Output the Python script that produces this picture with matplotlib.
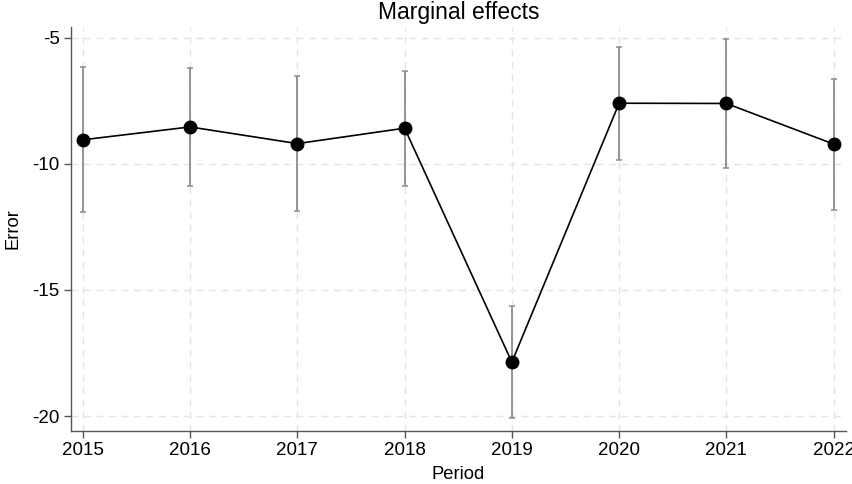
import matplotlib.pyplot as plt

plt.rcParams['font.family'] = ['Liberation Sans', 'DejaVu Sans']
plt.rcParams['axes.unicode_minus'] = False

# Estimated marginal effects by period with confidence intervals
periods = [2015, 2016, 2017, 2018, 2019, 2020, 2021, 2022]
effects = [-9.05, -8.54, -9.20, -8.59, -17.86, -7.60, -7.61, -9.22]
ci_low = [-11.91, -10.90, -11.86, -10.87, -20.09, -9.84, -10.17, -11.83]
ci_high = [-6.17, -6.19, -6.54, -6.31, -15.63, -5.37, -5.06, -6.64]

yticks = [-5, -10, -15, -20]

fig = plt.figure(figsize=(8.53, 4.84), dpi=100)
ax = fig.add_axes([0.0832, 0.1095, 0.9086, 0.8347])

err_lo = [e - lo for e, lo in zip(effects, ci_low)]
err_hi = [hi - e for e, hi in zip(effects, ci_high)]
ax.errorbar(periods, effects, yerr=[err_lo, err_hi], fmt='none',
            ecolor='#8c8c8c', elinewidth=1.3, capsize=2.5, capthick=1.1, zorder=2)
ax.plot(periods, effects, color='black', linewidth=1.2, marker='o',
        markersize=9, zorder=3)

ax.set_xlim(2014.89, 2022.115)
ax.set_ylim(-20.59, -4.58)
ax.set_xticks(periods)
ax.set_yticks(yticks)
ax.set_xticklabels([str(p) for p in periods])

ax.grid(True, color='#e4e4e4', linestyle=(0, (5, 4)), linewidth=1.0)
ax.set_axisbelow(True)

for side in ['top', 'right']:
    ax.spines[side].set_visible(False)
for side in ['left', 'bottom']:
    ax.spines[side].set_color('#555555')
    ax.spines[side].set_linewidth(1.0)

ax.tick_params(axis='both', labelsize=13.5, length=5, width=1.0, color='#555555', pad=3)

ax.set_title('Marginal effects', fontsize=16.5, pad=6)
ax.set_xlabel('Period', fontsize=13.2, labelpad=5)
ax.set_ylabel('Error', fontsize=13.2, labelpad=8)

fig.savefig('out.png', dpi=100)
